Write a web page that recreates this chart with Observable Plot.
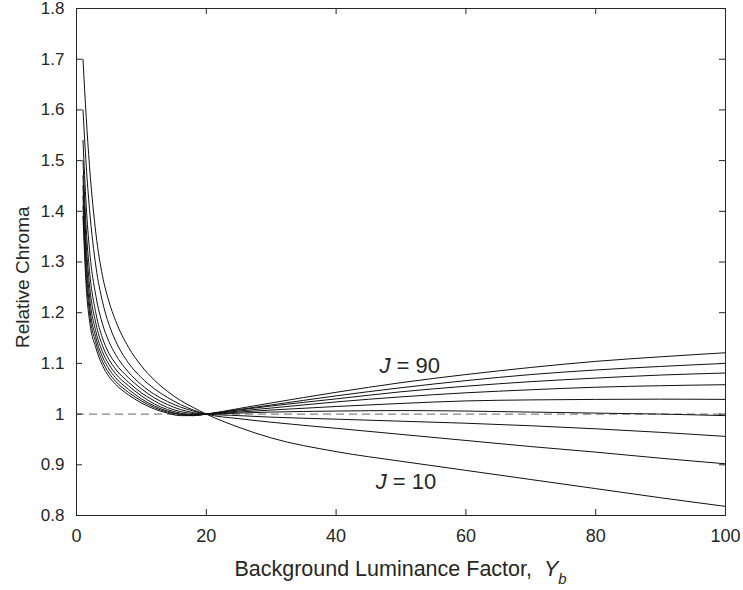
<!DOCTYPE html>
<html><head><meta charset="utf-8">
<script src="https://cdn.jsdelivr.net/npm/d3@7"></script>
<script src="https://cdn.jsdelivr.net/npm/@observablehq/plot@0.6"></script>
<style>body{margin:0;background:#fff;}</style>
</head><body><div id="chart"></div>
<script>
// Background luminance factor samples
const yb = [1,1.5,2,3,4,5,6,8,10,12,14,16,18,20,25,30,40,50,60,70,80,90,100];
// Relative chroma per lightness level J
const J10 = [1.70,1.585,1.49,1.355,1.273,1.222,1.185,1.132,1.095,1.067,1.045,1.027,1.013,1.0,0.974,0.953,0.926,0.907,0.889,0.871,0.853,0.835,0.818];
const J20 = [1.60,1.49,1.405,1.29,1.222,1.177,1.145,1.101,1.072,1.05,1.033,1.019,1.008,1.0,0.991,0.984,0.972,0.960,0.948,0.936,0.925,0.913,0.902];
const J30 = [1.54,1.41,1.325,1.232,1.178,1.143,1.118,1.083,1.058,1.039,1.025,1.014,1.006,1.0,0.997,0.994,0.990,0.986,0.982,0.977,0.971,0.964,0.956];
const J40 = [1.50,1.365,1.283,1.198,1.15,1.12,1.10,1.072,1.05,1.032,1.019,1.009,1.003,1.0,1.002,1.004,1.006,1.007,1.006,1.004,1.002,1.0,0.997];
const J50 = [1.47,1.335,1.255,1.178,1.135,1.108,1.089,1.063,1.042,1.026,1.013,1.005,1.001,1.0,1.004,1.008,1.015,1.021,1.026,1.028,1.029,1.0295,1.029];
const J60 = [1.45,1.31,1.233,1.162,1.123,1.098,1.080,1.056,1.036,1.020,1.009,1.002,0.999,1.0,1.006,1.012,1.024,1.034,1.042,1.048,1.053,1.056,1.058];
const J70 = [1.43,1.29,1.215,1.15,1.113,1.089,1.072,1.049,1.030,1.016,1.006,1.0,0.998,1.0,1.008,1.016,1.030,1.044,1.055,1.064,1.071,1.077,1.081];
const J80 = [1.41,1.27,1.20,1.14,1.104,1.081,1.065,1.043,1.026,1.013,1.004,0.999,0.997,1.0,1.009,1.018,1.036,1.052,1.066,1.078,1.087,1.094,1.100];
const J90 = [1.39,1.25,1.185,1.13,1.096,1.074,1.059,1.038,1.022,1.010,1.002,0.997,0.997,1.0,1.011,1.022,1.043,1.062,1.078,1.092,1.104,1.113,1.121];
const jLevels = [10,20,30,40,50,60,70,80,90];
const seriesList = [J10,J20,J30,J40,J50,J60,J70,J80,J90];

const xTicks = [0,20,40,60,80,100];
const xTickLabels = ["0","20","40","60","80","100"];
const yTicks = [0.8,0.9,1,1.1,1.2,1.3,1.4,1.5,1.6,1.7,1.8];
const yTickLabels = ["0.8","0.9","1","1.1","1.2","1.3","1.4","1.5","1.6","1.7","1.8"];

const annotX = [48.4, 47.8];
const annotY = [1.094, 0.867];
const annotLabels = ["90","10"];

const data = jLevels.flatMap((j, i) => yb.map((x, k) => ({j, x, y: seriesList[i][k]})));
const annot = annotLabels.map((label, i) => ({x: annotX[i], y: annotY[i], label}));

const font = "'Liberation Sans', Arial, Helvetica, sans-serif";
const ink = "#262626";

const chart = Plot.plot({
  width: 743, height: 590,
  marginLeft: 76, marginRight: 18, marginTop: 8, marginBottom: 75,
  style: {fontFamily: font, fontSize: "18px", color: ink, background: "#fff", overflow: "visible"},
  x: {domain: [0, 100]},
  y: {domain: [0.8, 1.8]},
  marks: [
    Plot.ruleY([1], {stroke: "#666", strokeDasharray: "8,5", strokeWidth: 1}),
    Plot.line(data, {x: "x", y: "y", z: "j", stroke: "#111", strokeWidth: 1, curve: "monotone-x"}),
    Plot.frame({stroke: ink, strokeWidth: 1}),
    Plot.tickX(xTicks, {x: d => d, insetTop: 501, stroke: ink}),
    Plot.tickX(xTicks, {x: d => d, insetBottom: 501, stroke: ink}),
    Plot.tickY(yTicks, {y: d => d, insetRight: 643, stroke: ink}),
    Plot.tickY(yTicks, {y: d => d, insetLeft: 643, stroke: ink}),
    Plot.axisX(xTicks, {tickSize: 0, tickPadding: 14, label: null, fontSize: 18,
      tickFormat: d => xTickLabels[xTicks.indexOf(d)]}),
    Plot.axisY(yTicks, {tickSize: 0, tickPadding: 12, label: null, fontSize: 17,
      tickFormat: d => yTickLabels[yTicks.findIndex(t => Math.abs(t - d) < 1e-9)]}),
    Plot.text(["Relative Chroma"], {frameAnchor: "left", y: () => 1.27, rotate: -90, dx: -54, textAnchor: "middle", fontSize: 19, fill: ink}),
    Plot.text(annot, {x: "x", y: "y", text: () => "J", fontStyle: "italic", textAnchor: "end", fontSize: 22, fill: ink}),
    Plot.text(annot, {x: "x", y: "y", text: d => "= " + d.label, textAnchor: "start", dx: 6, fontSize: 22, fill: ink})
  ]
});

const svg = d3.select(chart);
const xs = chart.scale("x");
const t = svg.append("text")
  .attr("x", (xs.apply(0) + xs.apply(100)) / 2)
  .attr("y", 576)
  .attr("text-anchor", "middle")
  .attr("font-size", 21.5)
  .attr("fill", ink)
  .attr("font-family", font)
  .style("white-space", "pre");
t.append("tspan").text("Background Luminance Factor,  ");
t.append("tspan").attr("font-style", "italic").text("Y");
t.append("tspan").attr("font-style", "italic").attr("font-size", 15).attr("dy", 8).text("b");

document.getElementById("chart").appendChild(chart);
</script>
</body></html>
